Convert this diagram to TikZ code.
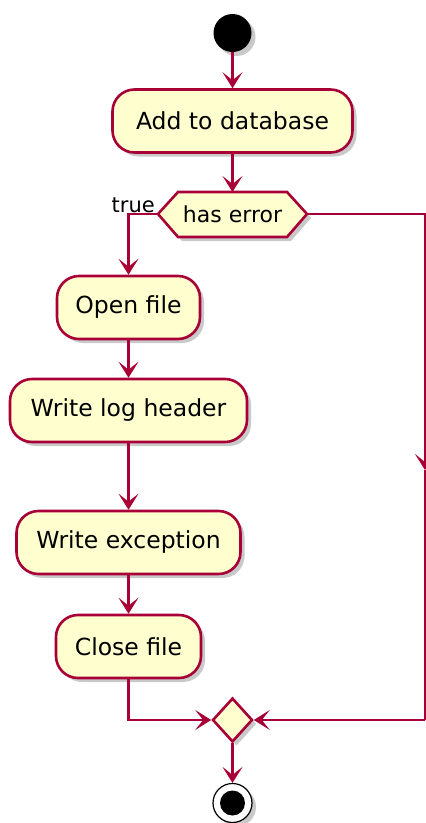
\documentclass[tikz,border=0pt]{standalone}
\usepackage{fontspec}
\setmainfont{DejaVu Sans}
\usetikzlibrary{arrows.meta,shapes.geometric,shadows}
\definecolor{umlfill}{HTML}{FEFECE}
\definecolor{umlline}{HTML}{A80036}
\tikzset{
  shad/.style={drop shadow={shadow xshift=4pt,shadow yshift=-4pt,opacity=.3,fill=black!70}},
  act/.style={draw=umlline,fill=umlfill,line width=2.6pt,rounded corners=22pt,minimum height=63pt,inner sep=0pt,shad,font=\fontsize{23.5}{28}\selectfont},
  flow/.style={draw=umlline,line width=2.2pt,-{Stealth[length=16pt,width=20pt,inset=8pt]}},
  plain/.style={draw=umlline,line width=2.2pt},
}
\begin{document}
\begin{tikzpicture}[x=1pt,y=1pt]
\useasboundingbox (0,0) rectangle (426,-823);
% start
\node[circle,fill=black,minimum size=38pt,inner sep=0pt,shad] (start) at (232.5,-33) {};
% activities
\node[act,minimum width=240pt] (add) at (232.5,-121) {Add to database};
% hexagon
\draw[draw=umlline,fill=umlfill,line width=2.6pt,shad] (158,-214) -- (178,-192) -- (287,-192) -- (307,-214) -- (287,-237) -- (178,-237) -- cycle;
\node[font=\fontsize{22}{26}\selectfont,inner sep=0pt] (he) at (232.5,-214) {has error};
\coordinate (heT) at (232.5,-192);
\coordinate (heL) at (158,-214);
\coordinate (heR) at (307,-214);
\node[anchor=base east,font=\fontsize{21}{25}\selectfont,inner sep=0pt] (tl) at (155,-212) {true};
\node[act,minimum width=143pt] (open) at (128.5,-307.5) {Open file};
\node[act,minimum width=237pt] (log) at (128.5,-410.5) {Write log header};
\node[act,minimum width=224pt] (exc) at (128.5,-542.5) {Write exception};
\node[act,minimum width=145pt] (close) at (128.5,-646.5) {Close file};
% merge
\node[diamond,draw=umlline,fill=umlfill,line width=2.6pt,minimum width=40pt,minimum height=44pt,inner sep=0pt,shad] (m) at (232.5,-720) {};
% end
\node[circle,draw=black,fill=white,line width=1.2pt,minimum size=39pt,inner sep=0pt,shad] (end) at (232.5,-803) {};
\node[circle,fill=black,minimum size=25pt,inner sep=0pt] (endin) at (232.5,-803) {};
% connectors
\draw[flow] (start) -- (add);
\draw[flow] (add) -- (heT);
\draw[flow] (heL) -| (open.north);
\draw[flow] (open) -- (log);
\draw[flow] (log) -- (exc);
\draw[flow] (exc) -- (close);
\coordinate (rc1) at (425,-214);
\coordinate (rmid) at (425,-470);
\coordinate (rc2) at (425,-720);
\draw[flow] (heR) -- (rc1) -- (rmid);
\draw[plain] (rmid) -- (rc2);
\draw[flow] (rc2) -- (m.east);
\draw[flow] (close.south) |- (m.west);
\draw[flow] (m) -- (end);
\end{tikzpicture}
\end{document}
